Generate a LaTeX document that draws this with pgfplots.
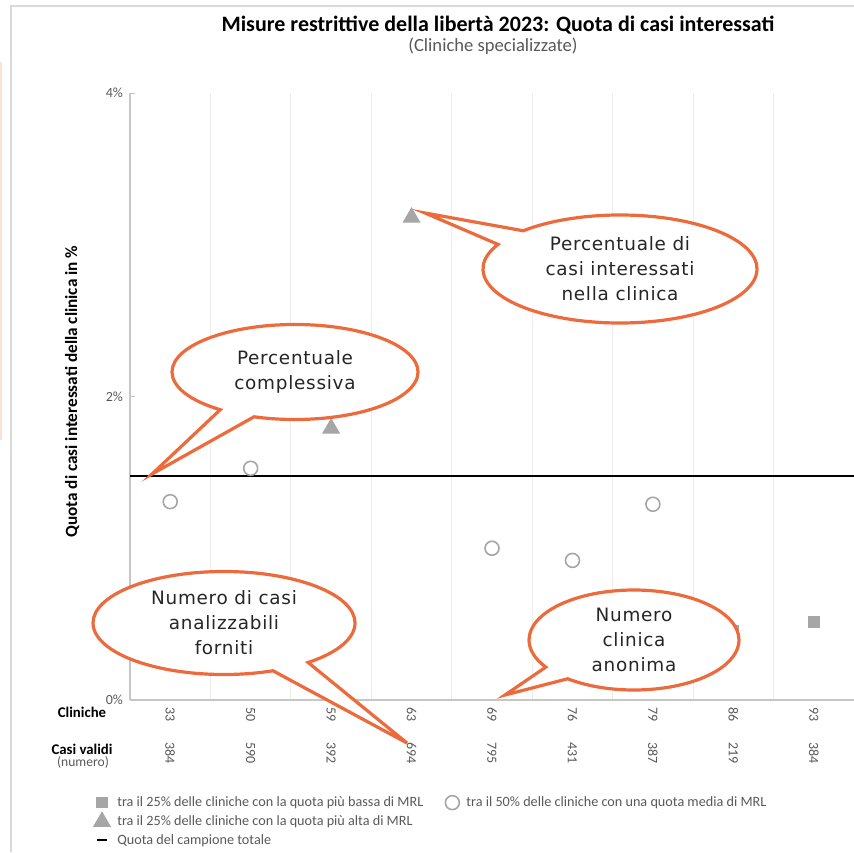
\documentclass[border=0pt]{standalone}
\usepackage{pgfplots}
\pgfplotsset{compat=1.18}
\usepackage{fontspec}
\setmainfont{Carlito}
\newfontfamily\callfont[LetterSpace=4]{DejaVu Sans}
\usetikzlibrary{shapes.callouts}
\definecolor{callorange}{HTML}{EC6A3C}
\definecolor{mkgrey}{HTML}{A6A6A6}
\definecolor{txtgrey}{HTML}{595959}
\definecolor{gridgrey}{HTML}{EDEDED}

\begin{document}
\begin{tikzpicture}
\path[use as bounding box] (0pt,0pt) rectangle (427pt,426pt);

\begin{axis}[
  at={(65pt,76pt)}, anchor=south west,
  scale only axis, width=362pt, height=303.5pt,
  xmin=-0.5, xmax=8.5, ymin=0, ymax=4,
  axis x line*=bottom, axis y line*=left,
  axis line style={gray!45, line width=0.6pt},
  ytick={0,2,4}, yticklabels={0\%,2\%,4\%},
  yticklabel style={font=\fontsize{7}{8}\selectfont, text=txtgrey},
  ytick style={gray!45}, major tick length=2.5pt,
  xtick={0,...,8}, xticklabels={33,50,59,63,69,76,79,86,93},
  xtick style={draw=none},
  xticklabel style={rotate=-90, anchor=west, font=\fontsize{7}{8}\selectfont, text=txtgrey},
  minor xtick={0.5,1.5,...,7.5}, minor tick length=0pt,
  xminorgrids, minor grid style={gridgrey, line width=0.6pt},
  ylabel={\bfseries Quota di casi interessati della clinica in \%},
  ylabel style={at={(axis description cs:-0.08,0.508)}, anchor=center, font=\fontsize{8.6}{9}\selectfont},
  legend columns=2,
  legend cell align=left,
  legend style={at={(-0.059,-0.147)}, anchor=north west, draw=none, fill=none,
    font=\fontsize{7.1}{8}\selectfont, text=txtgrey, row sep=0.2pt,
    nodes={text height=5.5pt, text depth=1.5pt, inner sep=1pt},
    /tikz/every odd column/.append style={column sep=2.5pt},
    /tikz/every even column/.append style={column sep=10pt}},
  mk/.style={legend image code/.code={\draw[##1] plot coordinates {(3pt,0pt)};}},
]
\addplot[only marks, mark=square*, mark size=2.6pt, color=mkgrey, mk]
  coordinates {(7,0.46) (8,0.516)};
\addlegendentry{tra il 25\% delle cliniche con la quota più bassa di MRL}
\addplot[only marks, mark=*, mark size=3.5pt, mark options={fill=white, draw=mkgrey, line width=0.8pt}, mk]
  coordinates {(0,1.307) (1,1.527) (4,1.0) (5,0.92) (6,1.29)};
\addlegendentry{tra il 50\% delle cliniche con una quota media di MRL}
\addplot[only marks, mark=triangle*, mark size=4.8pt, color=mkgrey, mk]
  coordinates {(2,1.79) (3,3.18)};
\addlegendentry{tra il 25\% delle cliniche con la quota più alta di MRL}
\addlegendimage{empty legend}
\addlegendentry{}
\addplot[black, line width=1pt, legend image code/.code={\draw[black, line width=1pt] (0.5pt,0pt) -- (5.5pt,0pt);}]
  coordinates {(-0.5,1.478) (8.5,1.478)};
\addlegendentry{Quota del campione totale}
\end{axis}

\begin{scope}[x=0.5pt, y=-0.5pt, yshift=426pt]
\draw[gray!30, line width=0.8pt] (11,852) -- (11,6) -- (854,6);
\draw[callorange!20, line width=1.2pt] (1,62) -- (1,440);
% titles and row labels
\node[font=\fontsize{11}{13}\selectfont\bfseries] at (498,25) {Misure restrittive della libertà 2023: Quota di casi interessati};
\node[font=\fontsize{9.3}{11}\selectfont, text=txtgrey] at (493,46) {(Cliniche specializzate)};
\node[font=\fontsize{7.4}{8}\selectfont\bfseries] at (82,712) {Cliniche};
\node[font=\fontsize{7.4}{8}\selectfont\bfseries] at (82,749) {Casi validi};
\node[font=\fontsize{6.8}{7}\selectfont, text=txtgrey] at (83,762) {(numero)};
\foreach \i/\v in {0/384,1/590,2/392,3/694,4/795,5/431,6/387,7/219,8/384}
  \node[rotate=-90, anchor=west, font=\fontsize{7}{8}\selectfont, text=txtgrey, inner sep=0pt]
    at ({130+80.44*(\i+0.5)},742) {\v};

% callouts
\tikzset{co/.style={ellipse callout, draw=callorange, line width=1.6pt, fill=white, inner sep=0pt,
  align=center, font=\callfont\fontsize{9.2}{12.5}\selectfont, text=black!85, callout pointer arc=18}}
\node[co, minimum width=123pt, minimum height=47.5pt, callout absolute pointer={(152,474)}] at (295,372)
  {Percentuale\\complessiva};
\node[co, minimum width=137pt, minimum height=54pt, callout absolute pointer={(425,213)}] at (620,269)
  {Percentuale di\\casi interessati\\nella clinica};
\node[co, minimum width=131pt, minimum height=51.5pt, callout absolute pointer={(407,743)}] at (224,623)
  {Numero di casi\\analizzabili\\forniti};
\node[co, minimum width=105pt, minimum height=50pt, callout absolute pointer={(505,695)}] at (634,640)
  {Numero\\clinica\\anonima};
\end{scope}
\end{tikzpicture}
\end{document}
